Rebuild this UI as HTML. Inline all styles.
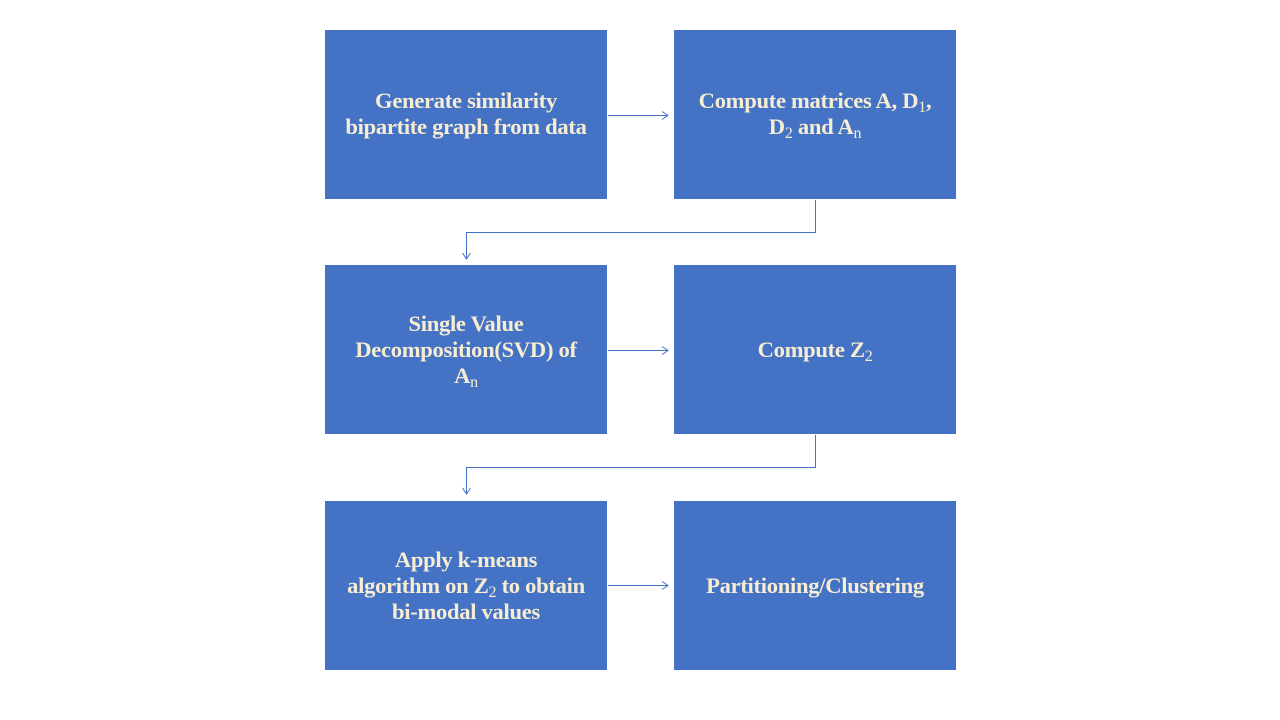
<!DOCTYPE html>
<html><head><style>
body{margin:0;width:1280px;height:720px;background:#fff;position:relative;overflow:hidden}
.b{position:absolute;width:282px;height:169px;background:#4472C4;display:flex;align-items:center;justify-content:center;text-align:center;color:#F7EDD3;font:bold 22.6px/26px "Liberation Serif",serif;box-sizing:border-box;white-space:nowrap;letter-spacing:-0.3px}
sub{font-weight:normal;font-size:16px;line-height:0;vertical-align:-4px}
svg{position:absolute;left:0;top:0}
</style></head><body>
<div class="b" style="left:325px;top:30px"><div style="margin-top:-1px">Generate similarity<br>bipartite graph from data</div></div>
<div class="b" style="left:674px;top:30px"><div style="margin-top:-1px">Compute matrices A, D<sub>1</sub>,<br>D<sub>2</sub> and A<sub>n</sub></div></div>
<div class="b" style="left:325px;top:265px"><div>Single Value<br>Decomposition(SVD) of<br>A<sub>n</sub></div></div>
<div class="b" style="left:674px;top:265px"><div>Compute Z<sub>2</sub></div></div>
<div class="b" style="left:325px;top:501px"><div>Apply k-means<br>algorithm on Z<sub>2</sub> to obtain<br>bi-modal values</div></div>
<div class="b" style="left:674px;top:501px"><div>Partitioning/Clustering</div></div>
<svg width="1280" height="720" fill="none" stroke="#4472C4" stroke-width="1">
<path d="M608 115.5H668M662 111.5l6 4-6 4"/>
<path d="M608 350.5H668M662 346.5l6 4-6 4"/>
<path d="M608 585.5H668M662 581.5l6 4-6 4"/>
<path d="M815.5 200V232.5H466.5V259M462.5 253l4 6 4-6"/>
<path d="M815.5 435V467.5H466.5V494M462.5 488l4 6 4-6"/>
</svg>
</body></html>
